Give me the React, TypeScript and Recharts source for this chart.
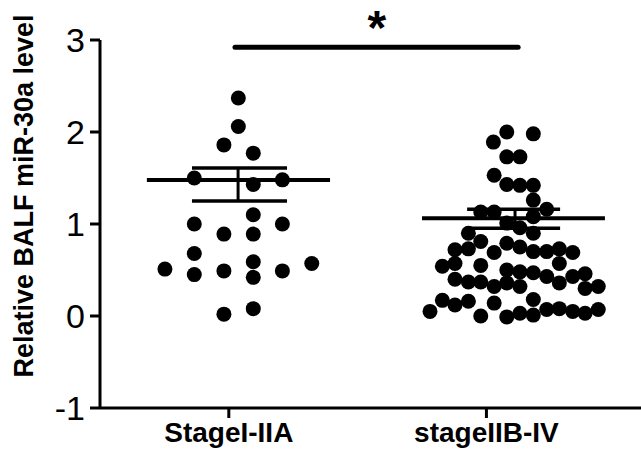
import React from 'react';
import {
  ScatterChart,
  Scatter,
  XAxis,
  YAxis,
  ReferenceLine,
  ReferenceDot,
} from 'recharts';

const categories = ['StageI-IIA', 'stageIIB-IV'];
const categoryTicks = [1, 2];
const yTicks = [-1, 0, 1, 2, 3];

// [x position, relative level]
const stageEarly: [number, number][] = [
  [1.037, 2.37], [1.037, 2.06], [0.981, 1.86], [1.095, 1.77],
  [0.866, 1.5], [1.095, 1.43], [1.208, 1.48], [0.866, 1.0],
  [1.095, 1.1], [1.208, 1.0], [0.981, 0.89], [1.095, 0.89],
  [0.866, 0.68], [1.095, 0.59], [1.322, 0.57], [0.752, 0.51],
  [0.866, 0.45], [0.981, 0.49], [1.095, 0.42], [1.208, 0.49],
  [0.981, 0.02], [1.095, 0.08],
];

const stageLate: [number, number][] = [
  [2.079, 2.0], [2.182, 1.98], [2.027, 1.89], [2.079, 1.73], [2.13, 1.73],
  [2.03, 1.53], [2.079, 1.43], [2.13, 1.42], [2.182, 1.42], [2.182, 1.26],
  [2.234, 1.16], [1.978, 1.13], [2.03, 1.13], [2.182, 1.08],
  [1.93, 0.9], [2.079, 1.01], [2.13, 0.96], [2.182, 0.9],
  [1.878, 0.72], [1.93, 0.73], [1.978, 0.81], [2.03, 0.69], [2.079, 0.79],
  [2.13, 0.75], [2.182, 0.7], [2.234, 0.7], [2.283, 0.73], [2.335, 0.69],
  [1.829, 0.54], [1.878, 0.57], [1.978, 0.55], [2.079, 0.5], [2.13, 0.48],
  [2.182, 0.47], [2.234, 0.43], [2.283, 0.57], [2.335, 0.43], [2.383, 0.46],
  [1.878, 0.4], [1.93, 0.37], [1.978, 0.37], [2.03, 0.32], [2.079, 0.36],
  [2.13, 0.32], [2.283, 0.36], [2.383, 0.3], [2.434, 0.32],
  [1.829, 0.17], [1.878, 0.12], [1.93, 0.16], [2.03, 0.14], [2.182, 0.18],
  [1.781, 0.05], [1.978, 0.0], [2.079, -0.01], [2.13, 0.03], [2.182, 0.01],
  [2.234, 0.07], [2.283, 0.08], [2.335, 0.05], [2.383, 0.03], [2.434, 0.07],
];

// mean and SEM per group
const means = [1.478, 1.062];
const semUpper = [1.61, 1.16];
const semLower = [1.25, 0.953];
const centers = [1.036, 2.111];
const meanSpan = [[0.682, 1.393], [1.75, 2.46]];
const capSpan = [[0.857, 1.226], [1.925, 2.286]];

const sigBar = { x1: 1.024, x2: 2.123, y: 2.92 };
const sigStar = { x: 1.575, y: 3.22, text: '*' };

const toPoints = (arr: [number, number][]) => arr.map(([x, y]) => ({ x, y }));

const Dot = (p: any) => <circle cx={p.cx} cy={p.cy} r={7.5} fill="#000" />;

const font = 'Liberation Sans, Arial, sans-serif';

const App: React.FC = () => {
  return (
    <div style={{ position: 'absolute', left: 0, top: 0 }}>
      <ScatterChart width={641} height={455} margin={{ top: 40, right: 0, bottom: 0, left: 0 }}>
        <XAxis
          type="number"
          dataKey="x"
          domain={[0.5, 2.6]}
          ticks={categoryTicks}
          allowDataOverflow
          tickFormatter={(v: number) => categories[v - 1]}
          height={47}
          axisLine={{ stroke: '#000', strokeWidth: 3 }}
          tickLine={{ stroke: '#000', strokeWidth: 3 }}
          tickSize={10}
          tickMargin={4}
          tick={{ fill: '#000', fontSize: 28, fontWeight: 'bold', fontFamily: font }}
        />
        <YAxis
          type="number"
          dataKey="y"
          domain={[-1, 3]}
          ticks={yTicks}
          allowDataOverflow
          width={100}
          axisLine={{ stroke: '#000', strokeWidth: 3 }}
          tickLine={{ stroke: '#000', strokeWidth: 3 }}
          tickSize={10}
          tickMargin={5}
          tick={{ fill: '#000', fontSize: 34, fontFamily: font }}
          label={{
            content: () => (
              <text
                x={24}
                y={196}
                transform="rotate(-90 24 196)"
                textAnchor="middle"
                dominantBaseline="central"
                fontSize={27}
                fontWeight="bold"
                fontFamily={font}
                fill="#000"
              >
                Relative BALF miR-30a level
              </text>
            ),
          }}
        />
        <Scatter data={toPoints(stageEarly)} shape={Dot} isAnimationActive={false} />
        <Scatter data={toPoints(stageLate)} shape={Dot} isAnimationActive={false} />
        {means.map((m, i) => (
          <ReferenceLine
            key={`mean-${i}`}
            segment={[{ x: meanSpan[i][0], y: m }, { x: meanSpan[i][1], y: m }]}
            stroke="#000"
            strokeWidth={4}
          />
        ))}
        {means.map((_, i) => (
          <ReferenceLine
            key={`up-${i}`}
            segment={[{ x: capSpan[i][0], y: semUpper[i] }, { x: capSpan[i][1], y: semUpper[i] }]}
            stroke="#000"
            strokeWidth={3.5}
          />
        ))}
        {means.map((_, i) => (
          <ReferenceLine
            key={`low-${i}`}
            segment={[{ x: capSpan[i][0], y: semLower[i] }, { x: capSpan[i][1], y: semLower[i] }]}
            stroke="#000"
            strokeWidth={3.5}
          />
        ))}
        {means.map((_, i) => (
          <ReferenceLine
            key={`stem-${i}`}
            segment={[{ x: centers[i], y: semLower[i] }, { x: centers[i], y: semUpper[i] }]}
            stroke="#000"
            strokeWidth={3}
          />
        ))}
        <ReferenceLine
          segment={[{ x: sigBar.x1, y: sigBar.y }, { x: sigBar.x2, y: sigBar.y }]}
          stroke="#000"
          strokeWidth={5}
          strokeLinecap="round"
        />
        <ReferenceDot
          x={sigStar.x}
          y={sigStar.y}
          r={0}
          ifOverflow="visible"
          shape={(p: any) => (
            <text
              x={p.cx}
              y={p.cy + 24}
              textAnchor="middle"
              fontSize={48}
              fontWeight="bold"
              fontFamily={font}
              fill="#000"
            >
              {sigStar.text}
            </text>
          )}
        />
      </ScatterChart>
    </div>
  );
};

export default App;
